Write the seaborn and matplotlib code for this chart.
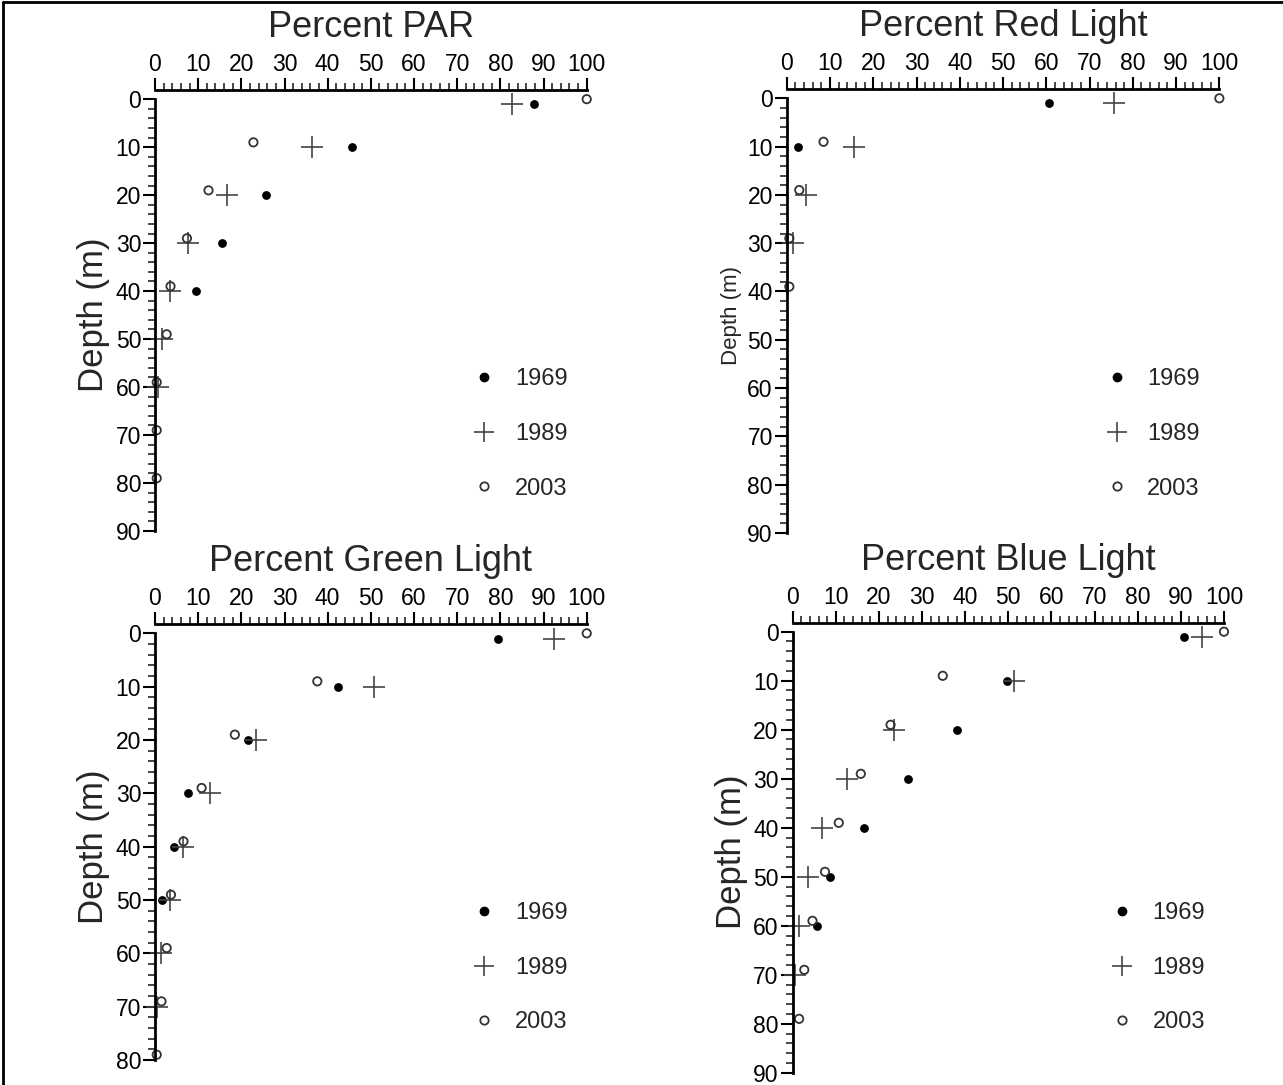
import matplotlib
matplotlib.use('Agg')
import matplotlib.pyplot as plt
from matplotlib.lines import Line2D
from matplotlib.ticker import MultipleLocator
import seaborn as sns

sns.set_style('white')
plt.rcParams['font.family'] = ['Liberation Sans', 'DejaVu Sans']

# depths (m)
depth_69 = [1, 10, 20, 30, 40, 50, 60]
depth_89 = [1, 10, 20, 30, 40, 50, 60, 70]
depth_03 = [0, 9, 19, 29, 39, 49, 59, 69, 79]

# percent PAR
par_1969 = [87.9, 45.7, 25.7, 15.6, 9.5]
par_1989 = [82.6, 36.3, 16.6, 7.7, 3.5, 1.7, 0.7]
par_2003 = [100, 22.8, 12.4, 7.4, 3.6, 2.7, 0.4, 0.4, 0.4]

# percent red light
red_1969 = [60.6, 2.7]
red_1989 = [75.7, 15.6, 4.5, 1.5]
red_2003 = [100, 8.5, 2.9, 0.6, 0.6]

# percent green light
green_1969 = [79.5, 42.5, 21.6, 7.7, 4.4, 1.7]
green_1989 = [92.4, 50.7, 23.5, 12.7, 6.6, 3.5, 1.5, 0.5]
green_2003 = [100, 37.6, 18.5, 10.8, 6.6, 3.7, 2.7, 1.5, 0.4]

# percent blue light
blue_1969 = [90.7, 49.6, 38.0, 26.8, 16.6, 8.6, 5.6]
blue_1989 = [95.0, 51.4, 23.5, 12.7, 6.7, 3.5, 1.5, 0.5]
blue_2003 = [100, 34.8, 22.7, 15.8, 10.7, 7.5, 4.6, 2.7, 1.5]

# title, series, max depth, axes rect, ylabel size, legend anchor (figure coords)
panels = [
    ('Percent PAR', par_1969, par_1989, par_2003, 90,
     [0.1208, 0.5106, 0.3365, 0.398], 25, (0.346, 0.680)),
    ('Percent Red Light', red_1969, red_1989, red_2003, 90,
     [0.6132, 0.5088, 0.3372, 0.4006], 16, (0.839, 0.680)),
    ('Percent Green Light', green_1969, green_1989, green_2003, 80,
     [0.1208, 0.0230, 0.3365, 0.3933], 25, (0.346, 0.188)),
    ('Percent Blue Light', blue_1969, blue_1989, blue_2003, 90,
     [0.6178, 0.0113, 0.3362, 0.4065], 25, (0.843, 0.188)),
]

FIG_H = 1085

fig = plt.figure(figsize=(12.83, 10.85), dpi=100)

for title, v69, v89, v03, dmax, rect, ylab_size, leg_xy in panels:
    ax = fig.add_axes(rect)
    sns.scatterplot(x=v69, y=depth_69[:len(v69)], ax=ax, marker='o', s=40,
                    color='black', linewidth=0, label='1969', clip_on=False)
    sns.scatterplot(x=v89, y=depth_89[:len(v89)], ax=ax, marker='+', s=230,
                    color='#444444', linewidth=1.2, label='1989', clip_on=False)
    sns.scatterplot(x=v03, y=depth_03[:len(v03)], ax=ax, marker='o', s=36,
                    facecolors='none', edgecolor='#333333', linewidth=1.3,
                    label='2003', clip_on=False)

    ax.set_xlim(0, 100)
    ax.set_ylim(dmax, 0)
    ax.xaxis.set_ticks_position('top')
    ax.xaxis.set_label_position('top')
    ax.xaxis.set_major_locator(MultipleLocator(10))
    ax.xaxis.set_minor_locator(MultipleLocator(2))
    ax.yaxis.set_major_locator(MultipleLocator(10))
    ax.yaxis.set_minor_locator(MultipleLocator(2))
    ax.tick_params(which='major', length=9, width=1.5, labelsize=16.5,
                   direction='out', left=True, top=True, colors='black')
    ax.tick_params(which='minor', length=5, width=1.2, direction='out',
                   left=True, top=True)
    ax.tick_params(axis='x', pad=1)
    ax.tick_params(axis='y', pad=1)
    for side in ['right', 'bottom']:
        ax.spines[side].set_visible(False)
    for side in ['left', 'top']:
        ax.spines[side].set_linewidth(2)
        ax.spines[side].set_color('black')
    ax.spines['top'].set_position(('outward', 6.5))

    # title baseline about 62 px above the plot top
    ax.set_title(title, fontsize=26, pad=0, y=1 + 62 / (rect[3] * FIG_H))
    ax.set_ylabel('Depth (m)', fontsize=ylab_size, labelpad=4)
    ax.set_xlabel('')

    handles = [
        Line2D([], [], ls='', marker='o', ms=6, mfc='black', mec='black'),
        Line2D([], [], ls='', marker='+', ms=15, mec='#444444', mew=1.2),
        Line2D([], [], ls='', marker='o', ms=6, mfc='none', mec='#333333',
               mew=1.3),
    ]
    ax.legend(handles, ['1969', '1989', '2003'], frameon=False, fontsize=17,
              loc='upper left', bbox_to_anchor=leg_xy,
              bbox_transform=fig.transFigure,
              labelspacing=1.38, handletextpad=0.5, handlelength=1.6)

# figure border (top and left edges)
fig.add_artist(Line2D([0.002, 0.002], [0.0, 0.998], transform=fig.transFigure,
                      color='black', lw=2))
fig.add_artist(Line2D([0.002, 1.0], [0.998, 0.998], transform=fig.transFigure,
                      color='black', lw=2))

fig.savefig('out.png', dpi=100, facecolor='white')
